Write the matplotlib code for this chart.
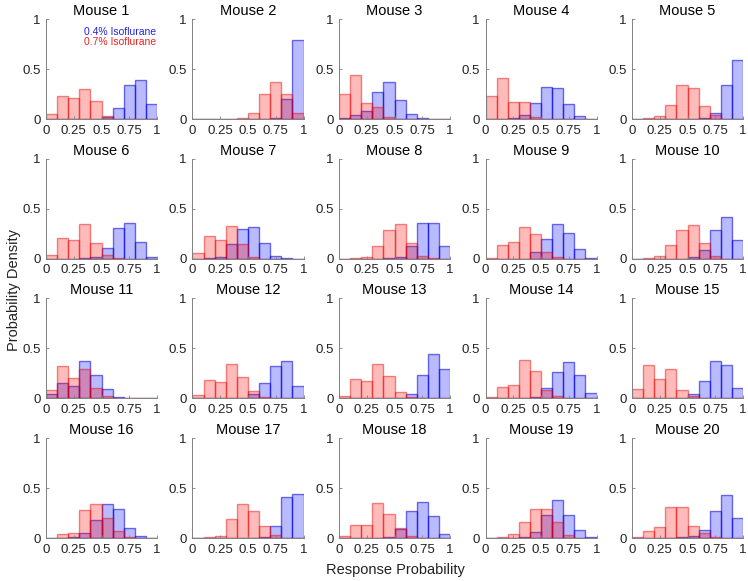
import numpy as np
import matplotlib
matplotlib.use("Agg")
import matplotlib.pyplot as plt

plt.rcParams['font.family'] = ['Liberation Sans', 'DejaVu Sans']

# bin edges (10 bins of width 0.1)
edges = np.linspace(0, 1, 11)

# probability per bin, 0.4% isoflurane (blue)
low_iso = [
    [0, 0, 0, 0, 0, 0.02, 0.11, 0.34, 0.39, 0.15],
    [0, 0, 0, 0, 0, 0, 0, 0.01, 0.20, 0.79],
    [0.01, 0.04, 0.08, 0.27, 0.37, 0.19, 0.05, 0.01, 0, 0],
    [0, 0, 0.01, 0.04, 0.16, 0.32, 0.31, 0.15, 0.03, 0],
    [0, 0, 0, 0, 0, 0, 0.01, 0.06, 0.34, 0.59],
    [0, 0, 0, 0.01, 0.02, 0.11, 0.31, 0.36, 0.17, 0.02],
    [0, 0.01, 0.02, 0.15, 0.30, 0.32, 0.16, 0.03, 0.01, 0],
    [0, 0, 0, 0, 0.01, 0.02, 0.13, 0.36, 0.36, 0.13],
    [0, 0, 0, 0, 0.07, 0.20, 0.35, 0.26, 0.10, 0.01],
    [0, 0, 0, 0, 0, 0.02, 0.09, 0.29, 0.42, 0.19],
    [0.04, 0.15, 0.12, 0.37, 0.23, 0.09, 0.01, 0, 0, 0],
    [0, 0, 0, 0, 0, 0.04, 0.15, 0.32, 0.37, 0.12],
    [0, 0, 0, 0, 0, 0, 0.04, 0.23, 0.44, 0.29],
    [0, 0, 0, 0, 0.01, 0.10, 0.26, 0.36, 0.23, 0.05],
    [0, 0, 0, 0, 0, 0.04, 0.17, 0.37, 0.33, 0.10],
    [0, 0, 0.01, 0.05, 0.18, 0.34, 0.29, 0.10, 0.02, 0],
    [0, 0, 0, 0, 0, 0, 0.01, 0.12, 0.41, 0.44],
    [0, 0, 0, 0, 0.01, 0.09, 0.27, 0.36, 0.22, 0.04],
    [0, 0, 0, 0.01, 0.06, 0.23, 0.38, 0.23, 0.08, 0.01],
    [0, 0, 0, 0, 0.01, 0.02, 0.08, 0.27, 0.43, 0.20],
]

# probability per bin, 0.7% isoflurane (red)
high_iso = [
    [0.05, 0.23, 0.21, 0.30, 0.18, 0.03, 0, 0, 0, 0],
    [0, 0, 0, 0, 0.01, 0.06, 0.25, 0.37, 0.25, 0.06],
    [0.25, 0.44, 0.16, 0.12, 0.02, 0, 0, 0, 0, 0],
    [0.23, 0.41, 0.17, 0.17, 0.02, 0, 0, 0, 0, 0],
    [0, 0.01, 0.03, 0.14, 0.34, 0.31, 0.13, 0.04, 0, 0],
    [0.04, 0.21, 0.19, 0.35, 0.16, 0.04, 0.01, 0, 0, 0],
    [0.06, 0.23, 0.19, 0.33, 0.15, 0.02, 0, 0, 0, 0],
    [0, 0.01, 0.02, 0.13, 0.29, 0.35, 0.16, 0.03, 0.01, 0],
    [0.01, 0.14, 0.17, 0.32, 0.25, 0.07, 0.02, 0, 0, 0],
    [0, 0.01, 0.03, 0.14, 0.29, 0.34, 0.16, 0.03, 0, 0],
    [0.08, 0.32, 0.20, 0.29, 0.10, 0.02, 0, 0, 0, 0],
    [0.03, 0.18, 0.16, 0.34, 0.21, 0.07, 0.01, 0, 0, 0],
    [0.02, 0.19, 0.17, 0.34, 0.22, 0.06, 0.01, 0, 0, 0],
    [0.01, 0.11, 0.13, 0.38, 0.27, 0.08, 0.02, 0, 0, 0],
    [0.09, 0.33, 0.19, 0.29, 0.08, 0.02, 0, 0, 0, 0],
    [0, 0.04, 0.05, 0.28, 0.34, 0.20, 0.07, 0.01, 0, 0],
    [0, 0.01, 0.02, 0.19, 0.34, 0.27, 0.12, 0.03, 0, 0],
    [0.02, 0.13, 0.13, 0.35, 0.24, 0.10, 0.02, 0, 0, 0],
    [0, 0.01, 0.04, 0.16, 0.29, 0.29, 0.16, 0.03, 0, 0],
    [0.01, 0.07, 0.11, 0.31, 0.31, 0.12, 0.05, 0.01, 0, 0],
]

xticks = [0, 0.25, 0.5, 0.75, 1]
xticklabels = ["0", "0.25", "0.5", "0.75", "1"]
yticks = [0, 0.5, 1]
yticklabels = ["0", "0.5", "1"]

W, H = 748, 581
fig = plt.figure(figsize=(W / 100, H / 100), dpi=100)

# axes geometry in pixels
left0, col_step, ax_w = 46, 146.5, 111
top0, row_step, ax_h = 19, 139.7, 100

blue_face = (0, 0, 1, 0.27)
blue_edge = (0, 0, 0.85, 0.55)
red_face = (1, 0, 0, 0.27)
red_edge = (0.9, 0, 0, 0.45)
gray = "#808080"

for i in range(20):
    r, c = divmod(i, 5)
    x0 = left0 + c * col_step
    y0 = top0 + r * row_step
    ax = fig.add_axes([x0 / W, 1 - (y0 + ax_h) / H, ax_w / W, ax_h / H])

    ax.bar(edges[:-1], low_iso[i], width=0.1, align='edge',
           facecolor=blue_face, edgecolor=blue_edge, linewidth=1.0)
    ax.bar(edges[:-1], high_iso[i], width=0.1, align='edge',
           facecolor=red_face, edgecolor=red_edge, linewidth=1.0)

    ax.set_xlim(0, 1)
    ax.set_ylim(0, 1)
    ax.set_xticks(xticks)
    ax.set_xticklabels(xticklabels)
    ax.set_yticks(yticks)
    ax.set_yticklabels(yticklabels)
    ax.tick_params(direction='in', length=2.5, width=0.6, color=gray,
                   labelsize=9.5, labelcolor="#222222", pad=4)
    for s in ["top", "right"]:
        ax.spines[s].set_visible(False)
    for s in ["left", "bottom"]:
        ax.spines[s].set_color(gray)
        ax.spines[s].set_linewidth(0.7)
    ax.set_title(f"Mouse {i + 1}", fontsize=10.5, pad=3)

    if i == 0:
        ax.text(0.99, 0.87, "0.4% Isoflurane", color="#2222dd", fontsize=7.5,
                ha='right', va='center', transform=ax.transAxes)
        ax.text(0.99, 0.77, "0.7% Isoflurane", color="#ee2222", fontsize=7.5,
                ha='right', va='center', transform=ax.transAxes)

fig.text(14 / W, 1 - 290 / H, "Probability Density", rotation=90,
         ha='center', va='center', fontsize=10.5, color="#222222")
fig.text(395 / W, 1 - 570 / H, "Response Probability",
         ha='center', va='center', fontsize=10.5, color="#222222")

fig.savefig("out.png", dpi=100)
